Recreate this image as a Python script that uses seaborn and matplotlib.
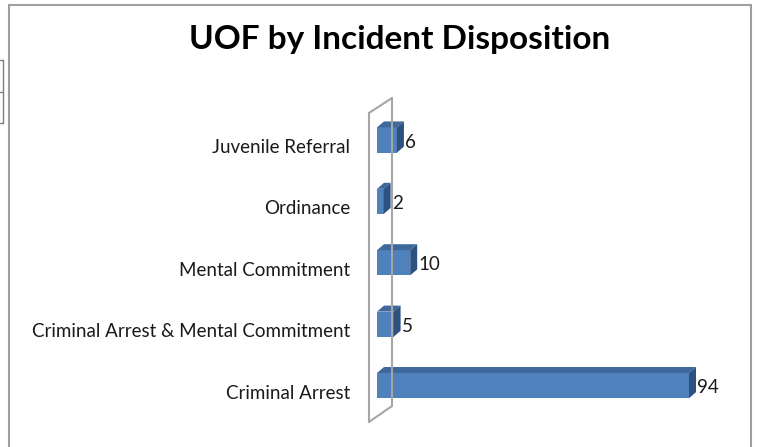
import numpy as np
import pandas as pd
import matplotlib
matplotlib.use("Agg")
import matplotlib.pyplot as plt
from matplotlib.patches import Polygon, Rectangle
from matplotlib.lines import Line2D
from matplotlib.transforms import ScaledTranslation
import seaborn as sns

# data
categories = ["Juvenile Referral", "Ordinance", "Mental Commitment",
              "Criminal Arrest & Mental Commitment", "Criminal Arrest"]
counts = [6, 2, 10, 5, 94]
title = "UOF by Incident Disposition"

df = pd.DataFrame({"Disposition": categories, "Count": counts})

sns.set_style("white")
plt.rcParams["font.family"] = ["Lato", "DejaVu Sans"]

W, H = 758, 447
fig = plt.figure(figsize=(W / 100, H / 100), dpi=100)
fig.patch.set_facecolor("white")

# axes in pixel terms (left, top, right, bottom)
L, T, R, B = 360, 97, 740, 420
ax = fig.add_axes([L / W, 1 - B / H, (R - L) / W, (B - T) / H])

front = "#4F81BD"
top_c = "#3F689B"
side_c = "#2E5280"

sns.barplot(data=df, x="Count", y="Disposition", orient="h", color=front,
            width=0.41, ax=ax, zorder=3, saturation=1, linewidth=0)

ppu = 312 / 94
ax.set_xlim(-(377 - L) / ppu, (R - 377) / ppu)
ax.set_ylim((B - 140) / 61.4, (T - 140) / 61.4)

# 3D depth of each bar (pixel offsets converted to data units)
ddx = 7 / ppu
ddy = -6 / 61.4
for p in list(ax.patches):
    x0, y0 = p.get_x(), p.get_y()
    w, h = p.get_width(), p.get_height()
    ytop = min(y0, y0 + h)
    ybot = max(y0, y0 + h)
    topface = Polygon([(x0, ytop), (x0 + ddx, ytop + ddy), (x0 + w + ddx, ytop + ddy),
                       (x0 + w, ytop)], closed=True, facecolor=top_c,
                      edgecolor="none", zorder=3)
    sideface = Polygon([(x0 + w, ytop), (x0 + w + ddx, ytop + ddy),
                        (x0 + w + ddx, ybot + ddy), (x0 + w, ybot)], closed=True,
                       facecolor=side_c, edgecolor="none", zorder=3)
    ax.add_patch(topface)
    ax.add_patch(sideface)
    ax.annotate(f"{w:g}", (x0 + w, (ytop + ybot) / 2), xytext=(8, -2),
                textcoords="offset pixels", ha="left", va="center",
                fontsize=13.5, color="#1A1A1A", zorder=4)

ax.set_xticks([])
ax.set_xlabel("")
ax.set_ylabel("")
ax.tick_params(axis="y", length=0, pad=7, labelsize=13.5, labelcolor="#1A1A1A")
for lab in ax.get_yticklabels():
    lab.set_transform(lab.get_transform() + ScaledTranslation(0, -0.06, fig.dpi_scale_trans))
for s in ax.spines.values():
    s.set_visible(False)
ax.patch.set_alpha(0)

# the slanted wall outline of the 3D plot area (figure pixels)
wall = "#A6A6A6"
for (xa, ya), (xb, yb) in [((392, 98), (392, 406)), ((369, 113), (369, 422)),
                           ((369, 113), (392, 98)), ((369, 422), (392, 406))]:
    fig.add_artist(Line2D([xa, xb], [H - ya, H - yb], transform=None,
                          color=wall, lw=1.5, zorder=1))

# chart border
fig.add_artist(Rectangle((9, -10), 742, H - 5 + 10, transform=None,
                         fill=False, edgecolor="#A0A0A0", lw=1.5, zorder=0))
# spreadsheet cell fragments at left edge
for yy in (60, 92, 123):
    fig.add_artist(Line2D([0, 3], [H - yy, H - yy], transform=None,
                          color="#7F7F7F", lw=1))
fig.add_artist(Line2D([3, 3], [H - 60, H - 123], transform=None,
                      color="#7F7F7F", lw=1))

fig.text(399.5 / W, 1 - 40 / H, title, ha="center", va="center",
         fontsize=24, fontweight="bold", color="black")

fig.savefig("out.png", dpi=100)
